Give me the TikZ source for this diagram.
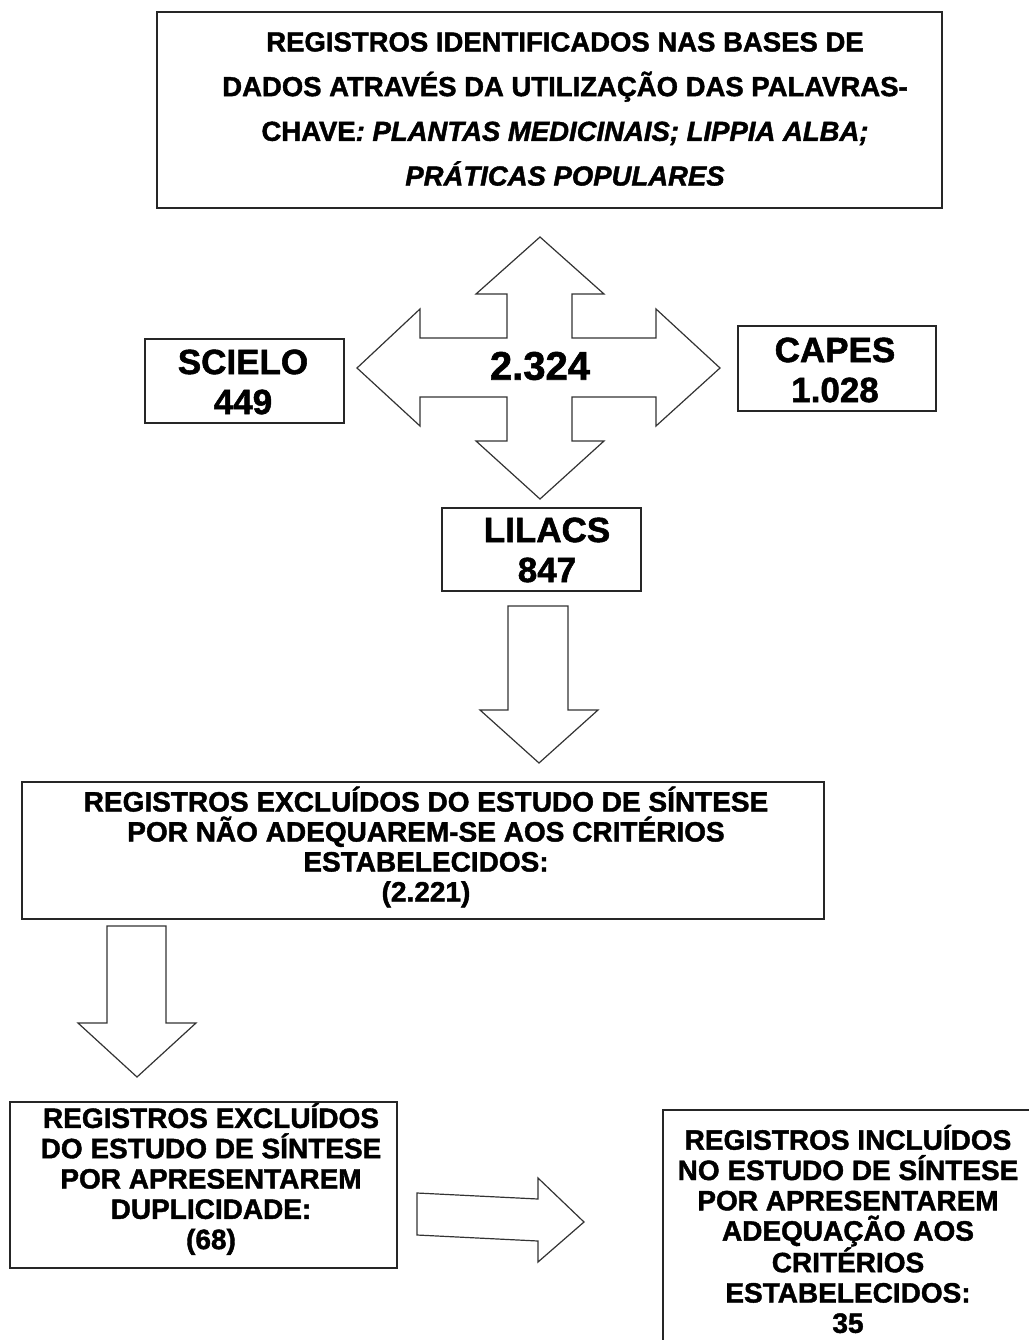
\documentclass[tikz,border=0pt]{standalone}
\usepackage{fontspec}
\setmainfont{Liberation Sans}[BoldFeatures={FakeBold=1.5},BoldItalicFeatures={FakeBold=1.5}]
\begin{document}
\begin{tikzpicture}[x=1pt,y=-1pt,
  box/.style={draw=black!85,line width=1.6pt,fill=white},
  blockarrow/.style={draw=black!80,line width=1.2pt,fill=white,line join=miter},
  txt/.style={align=center,inner sep=0pt,font=\bfseries\fontsize{28}{30.3}\selectfont},
  bigtxt/.style={align=center,inner sep=0pt,font=\bfseries\fontsize{35}{40}\selectfont}]
\useasboundingbox (0,0) rectangle (1028,1340);
\fill[white] (0,0) rectangle (1028,1340);

% top box
\draw[box] (157,12) rectangle (942,208);
\node[align=center,inner sep=0pt,font=\bfseries\fontsize{27.5}{44.7}\selectfont] (topT) at (565,109)
  {REGISTROS IDENTIFICADOS NAS BASES DE\\
   DADOS ATRAVÉS DA UTILIZAÇÃO DAS PALAVRAS-\\
   CHAVE\textit{: PLANTAS MEDICINAIS; LIPPIA ALBA;}\\
   \textit{PRÁTICAS POPULARES}};

% four-way arrow
\draw[blockarrow] (540,237) -- (604,294) -- (572,294) -- (572,338) -- (656,338) -- (656,309)
  -- (720,368) -- (656,426) -- (656,397) -- (572,397) -- (572,441) -- (604,441)
  -- (540,499) -- (476,441) -- (507,441) -- (507,397) -- (420,397) -- (420,426)
  -- (357,368) -- (420,309) -- (420,338) -- (507,338) -- (507,294) -- (476,294) -- cycle;
\node[inner sep=0pt,font=\bfseries\fontsize{40}{44}\selectfont] (total) at (540,366) {2.324};

% database boxes
\draw[box] (145,339) rectangle (344,423);
\node[bigtxt] (scielo) at (243,382) {SCIELO\\449};
\draw[box] (738,326) rectangle (936,411);
\node[bigtxt] (capes) at (835,370) {CAPES\\1.028};
\draw[box] (442,508) rectangle (641,591);
\node[bigtxt] (lilacs) at (547,550) {LILACS\\847};

% arrow down 1
\draw[blockarrow] (508,606) -- (568,606) -- (568,710) -- (598,710) -- (539,763)
  -- (480,710) -- (508,710) -- cycle;

% excluded box
\draw[box] (22,782) rectangle (824,919);
\node[txt,font=\bfseries\fontsize{28}{30}\selectfont] (excl) at (426,847)
  {REGISTROS EXCLUÍDOS DO ESTUDO DE SÍNTESE\\
   POR NÃO ADEQUAREM-SE AOS CRITÉRIOS\\
   ESTABELECIDOS:\\
   (2.221)};

% arrow down 2
\draw[blockarrow] (107,926) -- (166,926) -- (166,1023) -- (196,1023) -- (137,1077)
  -- (78,1023) -- (107,1023) -- cycle;

% duplicate box
\draw[box] (10,1102) rectangle (397,1268);
\node[txt] (dup) at (211,1179)
  {REGISTROS EXCLUÍDOS\\
   DO ESTUDO DE SÍNTESE\\
   POR APRESENTAREM\\
   DUPLICIDADE:\\
   (68)};

% right arrow
\draw[blockarrow] (417,1193) -- (538,1199) -- (538,1178) -- (584,1222) -- (538,1262)
  -- (538,1241) -- (417,1235) -- cycle;

% included box
\draw[box] (663,1110) rectangle (1060,1380);
\node[txt] (incl) at (848,1229)
  {REGISTROS INCLUÍDOS\\
   NO ESTUDO DE SÍNTESE\\
   POR APRESENTAREM\\
   ADEQUAÇÃO AOS\\
   CRITÉRIOS\\
   ESTABELECIDOS:\\
   35};
\end{tikzpicture}
\end{document}
